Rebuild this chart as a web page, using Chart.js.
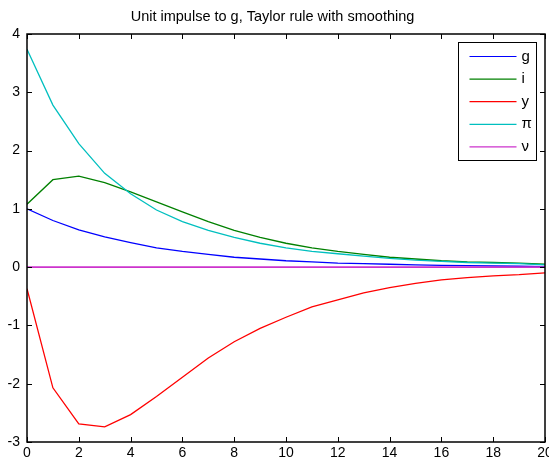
<!DOCTYPE html>
<html>
<head>
<meta charset="utf-8">
<script src="https://cdn.jsdelivr.net/npm/chart.js@4"></script>
<style>
  html, body { margin: 0; padding: 0; background: #fff; }
  #wrap { width: 549px; height: 462px; }
</style>
</head>
<body>
<div id="wrap"><canvas id="irf"></canvas></div>
<script>
// --- dati ---
const periods = [0,1,2,3,4,5,6,7,8,9,10,11,12,13,14,15,16,17,18,19,20];
const seriesNames = ['g', 'i', 'y', 'π', 'ν'];
const gVals  = [1.00, 0.80, 0.64, 0.52, 0.42, 0.33, 0.27, 0.22, 0.17, 0.14, 0.11, 0.09, 0.07, 0.06, 0.05, 0.04, 0.03, 0.025, 0.02, 0.015, 0.01];
const iVals  = [1.08, 1.50, 1.56, 1.45, 1.29, 1.12, 0.95, 0.78, 0.63, 0.51, 0.41, 0.33, 0.27, 0.22, 0.17, 0.14, 0.11, 0.09, 0.08, 0.07, 0.05];
const yVals  = [-0.37, -2.07, -2.69, -2.74, -2.53, -2.22, -1.89, -1.56, -1.28, -1.05, -0.86, -0.68, -0.56, -0.44, -0.35, -0.28, -0.22, -0.18, -0.15, -0.13, -0.10];
const piVals = [3.74, 2.78, 2.12, 1.61, 1.26, 0.98, 0.78, 0.63, 0.51, 0.41, 0.33, 0.27, 0.23, 0.19, 0.15, 0.12, 0.10, 0.08, 0.07, 0.06, 0.04];
const nuVals = [0,0,0,0,0,0,0,0,0,0,0,0,0,0,0,0,0,0,0,0,0];
const xTicks = [0, 2, 4, 6, 8, 10, 12, 14, 16, 18, 20];
const yTicks = [-3, -2, -1, 0, 1, 2, 3, 4];

const colors = ['#0000ff', '#008000', '#ff0000', '#00bfbf', '#cc33cc'];
const allVals = [gVals, iVals, yVals, piVals, nuVals];

const FONT = "'Liberation Sans', Arial, sans-serif";

// box + tacche interne stile MATLAB, e legenda dentro il grafico
const matlabAxes = {
    id: 'matlabAxes',
    afterDatasetsDraw(chart) {
        const { ctx, chartArea: a, scales } = chart;
        ctx.save();
        ctx.strokeStyle = '#000';
        ctx.lineWidth = 1;
        const tl = 5;
        ctx.beginPath();
        xTicks.forEach(v => {
            const px = Math.round(scales.x.getPixelForValue(v)) + 0.5;
            ctx.moveTo(px, a.bottom); ctx.lineTo(px, a.bottom - tl);
            ctx.moveTo(px, a.top); ctx.lineTo(px, a.top + tl);
        });
        yTicks.forEach(v => {
            const py = Math.round(scales.y.getPixelForValue(v)) + 0.5;
            ctx.moveTo(a.left, py); ctx.lineTo(a.left + tl, py);
            ctx.moveTo(a.right, py); ctx.lineTo(a.right - tl, py);
        });
        ctx.stroke();
        ctx.lineWidth = 1.5;
        ctx.strokeRect(a.left, a.top, a.right - a.left, a.bottom - a.top);

        // legenda
        const bx = 458.5, by = 42.5, bw = 78, bh = 118;
        ctx.fillStyle = '#fff';
        ctx.fillRect(bx, by, bw, bh);
        ctx.lineWidth = 1;
        ctx.strokeRect(bx, by, bw, bh);
        ctx.font = '15px ' + FONT;
        ctx.textBaseline = 'middle';
        ctx.textAlign = 'left';
        seriesNames.forEach((name, k) => {
            const ry = by + 14 + k * 22.6;
            ctx.strokeStyle = colors[k];
            ctx.lineWidth = 1.2;
            ctx.beginPath();
            ctx.moveTo(bx + 11, ry); ctx.lineTo(bx + 58, ry);
            ctx.stroke();
            ctx.fillStyle = '#000';
            ctx.fillText(name, bx + 63, ry);
        });
        ctx.restore();
    }
};

const datasets = seriesNames.map((name, k) => ({
    label: name,
    data: periods.map((p, j) => ({ x: p, y: allVals[k][j] })),
    borderColor: colors[k],
    borderWidth: k === 4 ? 1.6 : 1.3,
    pointRadius: 0,
    fill: false,
    tension: 0,
    order: 5 - k
}));

new Chart(document.getElementById('irf'), {
    type: 'line',
    data: { datasets },
    options: {
        responsive: true,
        maintainAspectRatio: false,
        animation: false,
        layout: { padding: { right: 4, left: 0, bottom: 0 } },
        plugins: {
            legend: { display: false },
            tooltip: { enabled: false },
            title: {
                display: true,
                text: 'Unit impulse to g, Taylor rule with smoothing',
                color: '#000',
                font: { family: FONT, size: 14.5, weight: 'normal' },
                padding: { top: 8, bottom: 8.6 }
            }
        },
        scales: {
            x: {
                type: 'linear',
                min: 0, max: 20,
                afterBuildTicks: s => { s.ticks = xTicks.map(v => ({ value: v })); },
                afterFit: s => { s.height = 20; s.paddingLeft = 0; s.paddingRight = 0; },
                grid: { display: false, drawTicks: false },
                border: { display: false },
                ticks: { color: '#000', padding: 3, maxRotation: 0, autoSkip: false,
                         font: { family: FONT, size: 14 } }
            },
            y: {
                type: 'linear',
                min: -3, max: 4,
                afterBuildTicks: s => { s.ticks = yTicks.map(v => ({ value: v })); },
                afterFit: s => { s.width = 27; s.paddingTop = 0; s.paddingBottom = 0; },
                grid: { display: false, drawTicks: false },
                border: { display: false },
                ticks: { color: '#000', padding: 7, autoSkip: false,
                         font: { family: FONT, size: 14 } }
            }
        }
    },
    plugins: [matlabAxes]
});
</script>
</body>
</html>
